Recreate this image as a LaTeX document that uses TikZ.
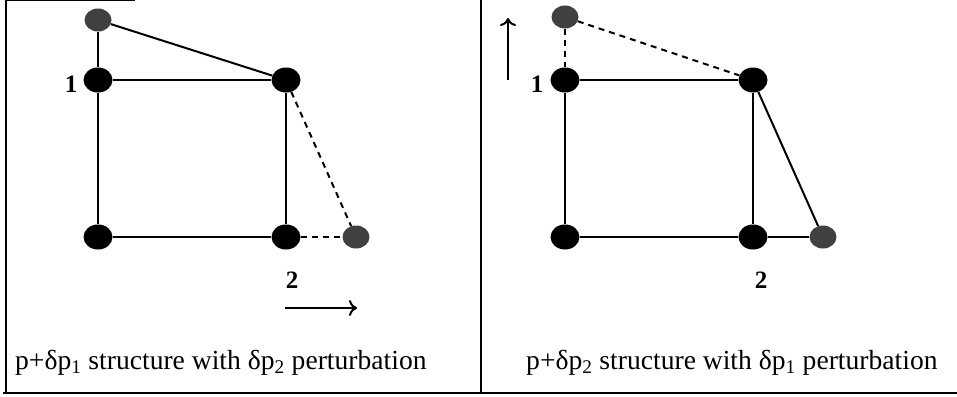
\documentclass[tikz,border=0pt]{standalone}
\usepackage{fontspec}
\setmainfont{Liberation Serif}
\usetikzlibrary{arrows.meta,shapes.geometric}
\tikzset{
  blk/.style={ellipse, fill=black, minimum width=29pt, minimum height=25pt, inner sep=0pt},
  gry/.style={ellipse, fill=black!75, minimum width=27pt, minimum height=23pt, inner sep=0pt},
  solidln/.style={line width=2pt},
  dashln/.style={line width=2pt, dash pattern=on 6pt off 5pt},
  framestyle/.style={line width=1.8pt},
  numlab/.style={font=\fontsize{25}{27}\selectfont\bfseries, inner sep=0pt},
  captxt/.style={font=\fontsize{27.6}{30}\selectfont, inner sep=0pt, anchor=base west},
  arrowln/.style={line width=2pt, -{To[length=8pt,width=16pt]}}
}
\newcommand{\sbs}[1]{\textsubscript{#1}}
\begin{document}
\begin{tikzpicture}[x=1pt,y=-1pt]
\useasboundingbox (0,0) rectangle (957,396);
% frame
\coordinate (fTL) at (6,0);
\coordinate (fBL) at (6,393);
\coordinate (fT2) at (135,0);
\coordinate (fB0) at (3,393);
\coordinate (fBR) at (957,393);
\coordinate (dT) at (481,0);
\coordinate (dB) at (481,393);
\draw[framestyle] (fTL) -- (fBL);
\draw[framestyle] (fTL) -- (fT2);
\draw[framestyle] (fB0) -- (fBR);
\draw[framestyle] (dT) -- (dB);

% left panel
\node[gry] (Lg) at (98,20) {};
\node[blk] (L1) at (98,80) {};
\node[blk] (Ltr) at (286,80) {};
\node[blk] (Lbl) at (98,237) {};
\node[blk] (Lbr) at (286,237) {};
\node[gry] (Lgr) at (356,237) {};
\draw[solidln] (Lg) -- (L1);
\draw[solidln] (Lg) -- (Ltr);
\draw[solidln] (L1) -- (Ltr);
\draw[solidln] (L1) -- (Lbl);
\draw[solidln] (Ltr) -- (Lbr);
\draw[solidln] (Lbl) -- (Lbr);
\draw[dashln] (Ltr) -- (Lgr);
\draw[dashln] (Lbr) -- (Lgr);
\node[numlab] (Ll1) at (71,84) {1};
\node[numlab] (Ll2) at (292,280) {2};
\coordinate (La0) at (285,308);
\coordinate (La1) at (357,308);
\draw[arrowln] (La0) -- (La1);
\node[captxt] (Lcap) at (15,369) {p+δp\sbs{1} structure with δp\sbs{2} perturbation};

% right panel
\node[gry] (Rg) at (565,17) {};
\node[blk] (R1) at (565,80) {};
\node[blk] (Rtr) at (753,80) {};
\node[blk] (Rbl) at (565,237) {};
\node[blk] (Rbr) at (753,237) {};
\node[gry] (Rgr) at (823,237) {};
\draw[dashln] (Rg) -- (R1);
\draw[dashln] (Rg) -- (Rtr);
\draw[solidln] (R1) -- (Rtr);
\draw[solidln] (R1) -- (Rbl);
\draw[solidln] (Rtr) -- (Rbr);
\draw[solidln] (Rbl) -- (Rbr);
\draw[solidln] (Rtr) -- (Rgr);
\draw[solidln] (Rbr) -- (Rgr);
\node[numlab] (Rl1) at (537,84) {1};
\node[numlab] (Rl2) at (761,280) {2};
\coordinate (Ra0) at (508,80);
\coordinate (Ra1) at (508,18);
\draw[arrowln] (Ra0) -- (Ra1);
\node[captxt] (Rcap) at (526,369) {p+δp\sbs{2} structure with δp\sbs{1} perturbation};
\end{tikzpicture}
\end{document}
